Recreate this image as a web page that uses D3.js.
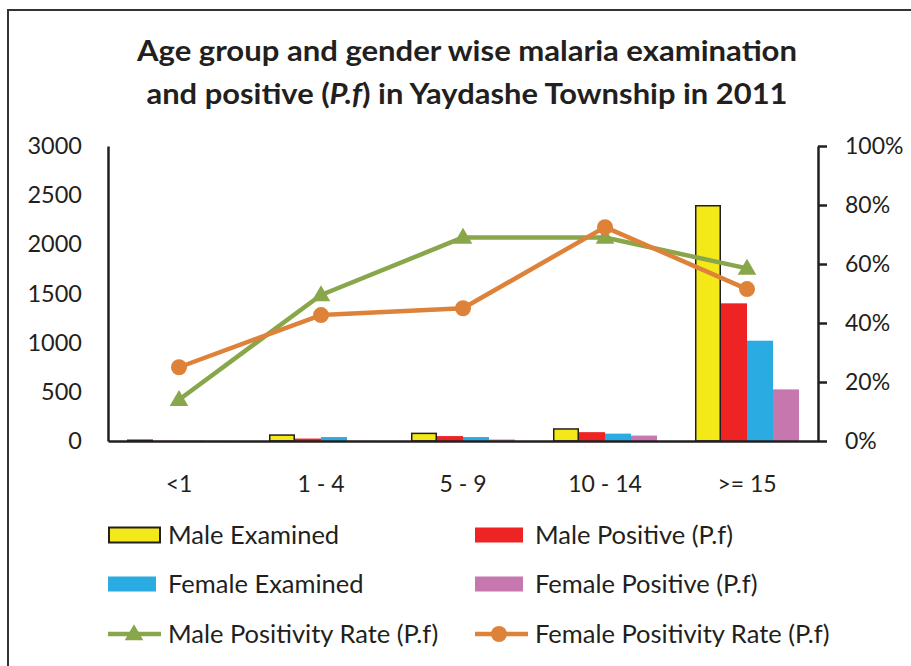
<!DOCTYPE html>
<html>
<head>
<meta charset="utf-8">
<script src="https://cdn.jsdelivr.net/npm/d3@7"></script>
<style>
  html, body { margin: 0; padding: 0; background: #fff; }
  svg { display: block; }
  text { font-family: Lato, "Open Sans", sans-serif; fill: #231f20; }
</style>
</head>
<body>
<svg id="chart" width="911" height="666"></svg>
<script>
// Age groups
const ageGroups = ["<1", "1 - 4", "5 - 9", "10 - 14", ">= 15"];

// Counts per age group
const maleExamined   = [15, 68, 85, 130, 2400];
const malePositive   = [2, 25, 50, 90, 1400];
const femaleExamined = [3, 40, 40, 75, 1020];
const femalePositive = [1, 2, 15, 55, 525];

// Positivity rates (%)
const maleRate   = [14, 49.5, 69, 69, 58.5];
const femaleRate = [25, 42.7, 45, 72.5, 51.5];

// Axis ticks
const countTicks = [0, 500, 1000, 1500, 2000, 2500, 3000];
const rateTicks  = [0, 20, 40, 60, 80, 100];

const barSeries = [
  { name: "Male Examined",        values: maleExamined,   color: "#f3e918", outline: true },
  { name: "Male Positive (P.f)",  values: malePositive,   color: "#ee2324" },
  { name: "Female Examined",      values: femaleExamined, color: "#2aace2" },
  { name: "Female Positive (P.f)",values: femalePositive, color: "#c678ae" }
];
const lineSeries = [
  { name: "Male Positivity Rate (P.f)",   values: maleRate,   color: "#88a64a", marker: "triangle" },
  { name: "Female Positivity Rate (P.f)", values: femaleRate, color: "#df8239", marker: "circle" }
];

const svg = d3.select("#chart");
const ink = "#231f20";

// outer frame
svg.append("rect")
  .attr("x", 8).attr("y", 10).attr("width", 960).attr("height", 720)
  .attr("fill", "none").attr("stroke", "#333").attr("stroke-width", 2);

// title, two lines, each stretched to its measured width
const title = svg.append("g").attr("font-weight", "bold").attr("font-size", 29);
title.append("text").attr("text-anchor", "middle")
  .attr("x", 467).attr("y", 61)
  .attr("textLength", 660).attr("lengthAdjust", "spacingAndGlyphs")
  .text("Age group and gender wise malaria examination");
const t2 = title.append("text").attr("text-anchor", "middle")
  .attr("x", 467).attr("y", 104)
  .attr("textLength", 641).attr("lengthAdjust", "spacingAndGlyphs");
t2.append("tspan").text("and positive (");
t2.append("tspan").attr("font-style", "italic").text("P.f");
t2.append("tspan").text(") in Yaydashe Township in 2011");

const plot = { left: 108, right: 818, top: 146, bottom: 441 };

const x = d3.scaleBand().domain(ageGroups).range([plot.left, plot.right]);
const xs = d3.scaleBand().domain(barSeries.map(d => d.name))
  .range([0, x.bandwidth()]).paddingInner(0).paddingOuter(0.73);
const yL = d3.scaleLinear().domain([0, 3000]).range([plot.bottom, plot.top]);
const yR = d3.scaleLinear().domain([0, 100]).range([plot.bottom, plot.top]);

// bars
barSeries.forEach(s => {
  svg.append("g").selectAll("rect")
    .data(s.values)
    .join("rect")
    .attr("x", (d, i) => x(ageGroups[i]) + xs(s.name) + (s.outline ? 0.75 : 0))
    .attr("width", xs.bandwidth() - (s.outline ? 1.5 : 0))
    .attr("y", d => yL(d) + (s.outline ? 0.75 : 0))
    .attr("height", d => Math.max(0, plot.bottom - yL(d) - (s.outline ? 0.75 : 0)))
    .attr("fill", s.color)
    .attr("stroke", s.outline ? ink : "none")
    .attr("stroke-width", s.outline ? 1.5 : 0);
});

const axisFont = 23.5;

// left axis (line only)
const axL = svg.append("g").attr("transform", `translate(${plot.left},0)`)
  .call(d3.axisLeft(yL).tickValues(countTicks).tickSize(0).tickPadding(26).tickFormat(d3.format("d")));
axL.select(".domain").attr("stroke", ink).attr("stroke-width", 2.5);
axL.selectAll("text").attr("font-size", axisFont).attr("font-family", "Lato").attr("fill", ink);

// right axis
const axR = svg.append("g").attr("transform", `translate(${plot.right},0)`)
  .call(d3.axisRight(yR).tickValues(rateTicks).tickSize(9).tickSizeOuter(0).tickPadding(18).tickFormat(d => d + "%"));
axR.select(".domain").attr("stroke", ink).attr("stroke-width", 2.5);
axR.selectAll(".tick line").attr("stroke", ink).attr("stroke-width", 2.5);
axR.selectAll("text").attr("font-size", 23).attr("font-family", "Lato").attr("fill", ink);

// bottom axis
const axB = svg.append("g").attr("transform", `translate(0,${plot.bottom})`)
  .call(d3.axisBottom(x).tickSize(0).tickPadding(35));
axB.select(".domain").attr("stroke", ink).attr("stroke-width", 2.5);
axB.selectAll("text").attr("font-size", 23).attr("font-family", "Lato").attr("fill", ink);

// lines and markers
const cx = g => x(g) + x.bandwidth() / 2;
const tri = d3.symbol().type(d3.symbolTriangle).size(150);
lineSeries.forEach(s => {
  const pts = s.values.map((v, i) => [cx(ageGroups[i]), yR(v)]);
  svg.append("path")
    .attr("d", d3.line()(pts))
    .attr("fill", "none").attr("stroke", s.color).attr("stroke-width", 4.5)
    .attr("stroke-linejoin", "round");
  const g = svg.append("g");
  if (s.marker === "triangle") {
    g.selectAll("path").data(pts).join("path")
      .attr("d", tri)
      .attr("transform", d => `translate(${d[0]},${d[1] + 1})`)
      .attr("fill", s.color);
  } else {
    g.selectAll("circle").data(pts).join("circle")
      .attr("cx", d => d[0]).attr("cy", d => d[1]).attr("r", 8)
      .attr("fill", s.color);
  }
});

// legend
const legendItems = [
  { s: barSeries[0], kind: "bar",  x: 108, y: 535 },
  { s: barSeries[1], kind: "bar",  x: 475, y: 535 },
  { s: barSeries[2], kind: "bar",  x: 108, y: 584 },
  { s: barSeries[3], kind: "bar",  x: 475, y: 584 },
  { s: lineSeries[0], kind: "line", x: 108, y: 634 },
  { s: lineSeries[1], kind: "line", x: 475, y: 634 }
];
const lg = svg.append("g");
legendItems.forEach(it => {
  const g = lg.append("g").attr("transform", `translate(${it.x},${it.y})`);
  if (it.kind === "bar") {
    g.append("rect")
      .attr("x", it.s.outline ? 1 : 0).attr("y", -7.5)
      .attr("width", it.s.outline ? 51 : 48).attr("height", 15)
      .attr("fill", it.s.color)
      .attr("stroke", it.s.outline ? ink : "none")
      .attr("stroke-width", it.s.outline ? 2 : 0);
  } else {
    g.append("line").attr("x1", 0).attr("x2", 53).attr("y1", 0).attr("y2", 0)
      .attr("stroke", it.s.color).attr("stroke-width", 4.5);
    if (it.s.marker === "triangle") {
      g.append("path").attr("d", tri).attr("transform", "translate(26,1)").attr("fill", it.s.color);
    } else {
      g.append("circle").attr("cx", 24).attr("cy", 0).attr("r", 8).attr("fill", it.s.color);
    }
  }
  g.append("text")
    .attr("x", 60)
    .attr("y", 0).attr("dy", "0.35em")
    .attr("font-size", 25.5)
    .text(it.s.name);
});
</script>
</body>
</html>
